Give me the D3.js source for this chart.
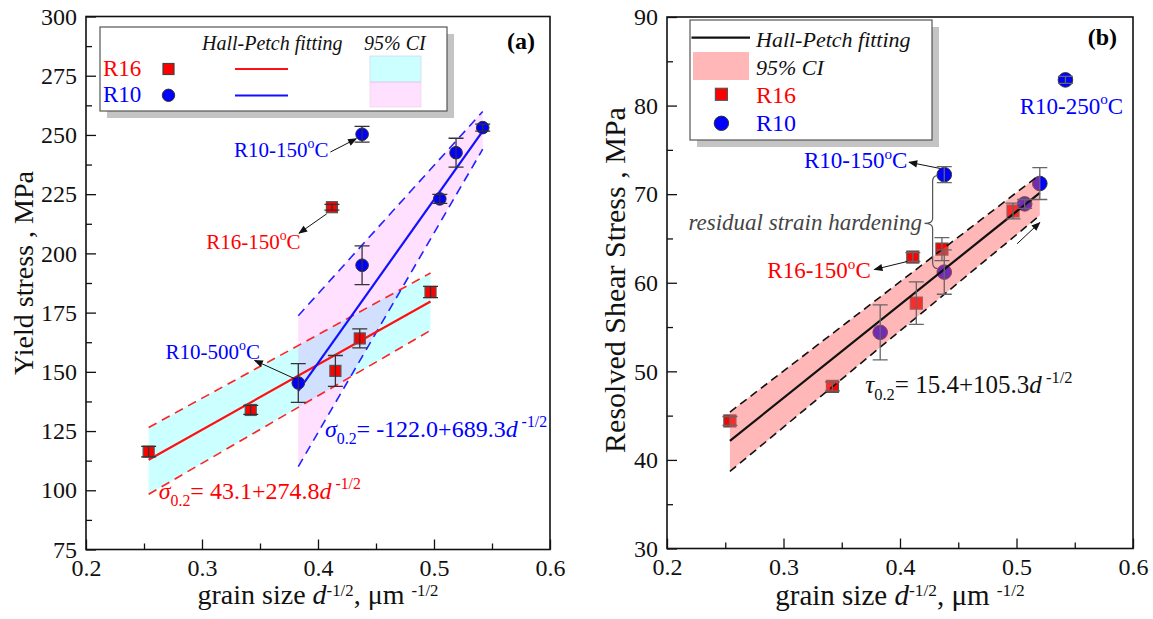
<!DOCTYPE html>
<html>
<head>
<meta charset="utf-8">
<script src="https://cdn.jsdelivr.net/npm/d3@7"></script>
<style>
  body { margin: 0; background: #fff; }
</style>
</head>
<body>
<svg id="chart" width="1153" height="619"></svg>
<script>
var FONT = "'Liberation Serif', 'Times New Roman', Tinos, 'Nimbus Roman', 'DejaVu Serif', 'Noto Serif', serif";

// ---- panel (a) data ----
var xTicksA = [0.2, 0.3, 0.4, 0.5, 0.6];
var yTicksA = [75, 100, 125, 150, 175, 200, 225, 250, 275, 300];
var aR16x = [0.254, 0.342, 0.415, 0.436, 0.497, 0.412];
var aR16y = [116.3, 133.9, 150.4, 164.1, 183.7, 219.5];
var aR16e = [2.2, 1.9, 6.5, 4.0, 2.4, 1.2];
var aR10x = [0.383, 0.438, 0.505, 0.519, 0.542, 0.438];
var aR10y = [145.3, 195.0, 223.0, 242.5, 253.1, 250.3];
var aR10e = [8.2, 8.2, 1.9, 6.1, 1.5, 3.3];
var aFitR16 = [43.1, 274.8], aFitR16x = [0.254, 0.497];
var aFitR10 = [-122.0, 689.3], aFitR10x = [0.383, 0.542];
var aCiR16x = [0.254, 0.497], aCiR16Up = [126.5, 191.7], aCiR16Lo = [98.3, 167.5];
var aCiR10x = [0.383, 0.542], aCiR10Up = [173.7, 259.9], aCiR10Lo = [110.0, 244.0];

// ---- panel (b) data ----
var xTicksB = [0.2, 0.3, 0.4, 0.5, 0.6];
var yTicksB = [30, 40, 50, 60, 70, 80, 90];
var bR16x = [0.254, 0.342, 0.414, 0.436, 0.497, 0.411];
var bR16y = [44.4, 48.3, 57.7, 63.8, 68.1, 62.9];
var bR16e = [0.5, 0.5, 2.4, 1.3, 0.9, 0.5];
var bR10x = [0.383, 0.438, 0.507, 0.520, 0.542, 0.438];
var bR10y = [54.4, 61.2, 68.9, 71.2, 82.9, 72.2];
var bR10e = [3.1, 2.5, 0.5, 1.8, 0.4, 0.9];
var bFit = [15.4, 105.3], bFitx = [0.254, 0.520];
var bCix = [0.254, 0.520], bCiUp = [45.4, 72.2], bCiLo = [38.7, 67.6];

var RED = "#ff0000", BLUE = "#0000ff";
var svg = d3.select("#chart").attr("font-family", FONT);

var defs = svg.append("defs");
defs.append("marker").attr("id", "arr").attr("viewBox", "0 0 10 10")
  .attr("refX", 9).attr("refY", 5).attr("markerWidth", 10).attr("markerHeight", 9)
  .attr("markerUnits", "userSpaceOnUse").attr("orient", "auto")
  .append("path").attr("d", "M0,1 L10,5 L0,9 z").attr("fill", "#111");

// rich text: parts = [[text, kind]] kind n|i|sup|sub|tsup (small raise, for axis titles)
function rich(sel, parts, size) {
  var shift = 0;
  parts.forEach(function(p) {
    var k = p[1];
    var target = k == "sup" ? -0.42 * size : (k == "tsup" ? -0.3 * size : (k == "sub" ? 0.28 * size : 0));
    var ts = sel.append("tspan").attr("dy", target - shift).text(p[0]);
    shift = target;
    if (k == "sup" || k == "sub") ts.attr("font-size", size * 0.66);
    if (k == "tsup") ts.attr("font-size", size * 0.6);
    if (k == "i") ts.attr("font-style", "italic");
  });
  return sel;
}

function addText(g, x, y, parts, size, color, anchor, extra) {
  var t = g.append("text").attr("x", x).attr("y", y)
    .attr("font-family", FONT)
    .attr("font-size", size).attr("fill", color || "#000")
    .attr("text-anchor", anchor || "start");
  if (extra) extra(t);
  return rich(t, parts, size);
}

function arrow(g, x1, y1, x2, y2) {
  g.append("line").attr("x1", x1).attr("y1", y1).attr("x2", x2).attr("y2", y2)
    .attr("stroke", "#111").attr("stroke-width", 1).attr("marker-end", "url(#arr)");
}

function frame(g, x, y, xMajor, xMinor, yMajor, yMinor, yFmt) {
  var x0 = x.range()[0], x1 = x.range()[1], y0 = y.range()[1], y1 = y.range()[0];
  g.append("g").attr("transform", "translate(0," + y1 + ")")
    .call(d3.axisBottom(x).tickValues(xMajor).tickSize(-10).tickSizeOuter(0)
      .tickPadding(9).tickFormat(d3.format(".1f")));
  g.append("g").attr("transform", "translate(0," + y1 + ")")
    .call(d3.axisBottom(x).tickValues(xMinor).tickSize(-6).tickSizeOuter(0).tickFormat(""));
  g.append("g").attr("transform", "translate(" + x0 + ",0)")
    .call(d3.axisLeft(y).tickValues(yMajor).tickSize(-10).tickSizeOuter(0)
      .tickPadding(9).tickFormat(yFmt));
  g.append("g").attr("transform", "translate(" + x0 + ",0)")
    .call(d3.axisLeft(y).tickValues(yMinor).tickSize(-6).tickSizeOuter(0).tickFormat(""));
  g.selectAll(".domain").remove();
  g.selectAll(".tick line").attr("stroke", "#111").attr("stroke-width", 1.3);
  g.selectAll(".tick text").attr("font-family", FONT).attr("font-size", 24).attr("fill", "#111");
  g.append("rect").attr("x", x0).attr("y", y0).attr("width", x1 - x0).attr("height", y1 - y0)
    .attr("fill", "none").attr("stroke", "#111").attr("stroke-width", 1.6);
}

function band(g, x, y, xs, up, lo, fill, op) {
  var pts = xs.map(function(d, i) { return [x(d), y(up[i])]; })
    .concat(xs.slice().reverse().map(function(d, i) { return [x(d), y(lo[xs.length - 1 - i])]; }));
  g.append("path").attr("d", "M" + pts.join("L") + "Z").attr("fill", fill).attr("fill-opacity", op);
}
function dashed(g, x, y, xs, ys, color, dash) {
  g.append("path").attr("d", d3.line().x(function(d, i) { return x(xs[i]); }).y(function(d) { return y(d); })(ys))
    .attr("fill", "none").attr("stroke", color).attr("stroke-width", 1.6).attr("stroke-dasharray", dash);
}
function fitLine(g, x, y, coef, xs, color) {
  g.append("line").attr("x1", x(xs[0])).attr("y1", y(coef[0] + coef[1] * xs[0]))
    .attr("x2", x(xs[1])).attr("y2", y(coef[0] + coef[1] * xs[1]))
    .attr("stroke", color).attr("stroke-width", 2.2);
}
function squares(g, x, y, xs, ys, s) {
  g.selectAll(null).data(xs).enter().append("rect")
    .attr("x", function(d) { return x(d) - s / 2; })
    .attr("y", function(d, i) { return y(ys[i]) - s / 2; })
    .attr("width", s).attr("height", s)
    .attr("fill", RED).attr("stroke", "#555").attr("stroke-width", 1.2);
}
function circles(g, x, y, xs, ys, r) {
  g.selectAll(null).data(xs).enter().append("circle")
    .attr("cx", function(d) { return x(d); })
    .attr("cy", function(d, i) { return y(ys[i]); })
    .attr("r", r).attr("fill", BLUE).attr("stroke", "#333").attr("stroke-width", 1);
}
function errbars(g, x, y, xs, ys, es, w, color) {
  xs.forEach(function(d, i) {
    var cx = x(d), t = y(ys[i] + es[i]), b = y(ys[i] - es[i]);
    var p = "M" + cx + "," + t + "V" + b + "M" + (cx - w) + "," + t + "H" + (cx + w) + "M" + (cx - w) + "," + b + "H" + (cx + w);
    g.append("path").attr("d", p).attr("stroke", color).attr("stroke-width", 1.3).attr("fill", "none");
  });
}

// ================= panel (a) =================
var xa = d3.scaleLinear().domain([0.2, 0.6]).range([86, 550]);
var ya = d3.scaleLinear().domain([75, 300]).range([549.5, 16.5]);
var ga = svg.append("g");

band(ga, xa, ya, aCiR16x, aCiR16Up, aCiR16Lo, "#00ffff", 0.2);
band(ga, xa, ya, aCiR10x, aCiR10Up, aCiR10Lo, "#ff00ff", 0.12);
dashed(ga, xa, ya, aCiR16x, aCiR16Up, "#ff2222", "9,6");
dashed(ga, xa, ya, aCiR16x, aCiR16Lo, "#ff2222", "9,6");
dashed(ga, xa, ya, aCiR10x, aCiR10Up, "#2222ff", "9,6");
dashed(ga, xa, ya, aCiR10x, aCiR10Lo, "#2222ff", "9,6");
fitLine(ga, xa, ya, aFitR16, aFitR16x, "#ff1111");
fitLine(ga, xa, ya, aFitR10, aFitR10x, "#1111ff");
squares(ga, xa, ya, aR16x, aR16y, 11);
circles(ga, xa, ya, aR10x, aR10y, 6.3);
errbars(ga, xa, ya, aR16x, aR16y, aR16e, 7.5, "#333");
errbars(ga, xa, ya, aR10x, aR10y, aR10e, 7.5, "#333");

frame(ga, xa, ya, xTicksA, d3.range(0.25, 0.6, 0.1), yTicksA, d3.range(87.5, 300, 25), d3.format("d"));

// annotations (a)
addText(ga, xa(0.409), ya(240.7), [["R10-150", "n"], ["o", "sup"], ["C", "n"]], 21, BLUE, "end");
arrow(ga, xa(0.4107), ya(242.8), xa(0.433), ya(248.4));
addText(ga, xa(0.385), ya(201.8), [["R16-150", "n"], ["o", "sup"], ["C", "n"]], 21, RED, "end");
arrow(ga, xa(0.4075), ya(216.7), xa(0.3836), ya(208.5));
addText(ga, xa(0.350), ya(155.5), [["R10-500", "n"], ["o", "sup"], ["C", "n"]], 21, BLUE, "end");
arrow(ga, xa(0.3804), ya(147), xa(0.3454), ya(154.8));
addText(ga, xa(0.406), ya(122.3), [["\u03c3", "i"], ["0.2", "sub"], ["= -122.0+689.3", "n"], ["d", "i"], [" -1/2", "sup"]], 24, BLUE);
addText(ga, xa(0.2627), ya(96.2), [["\u03c3", "i"], ["0.2", "sub"], ["= 43.1+274.8", "n"], ["d", "i"], [" -1/2", "sup"]], 24, RED);
addText(ga, 535, 49, [["(a)", "n"]], 24, "#000", "end", function(t) { t.attr("font-weight", "bold"); });

// legend (a)
ga.append("rect").attr("x", 107).attr("y", 34).attr("width", 347).attr("height", 84).attr("fill", "#c4c4c4");
ga.append("rect").attr("x", 100).attr("y", 27).attr("width", 347).attr("height", 84)
  .attr("fill", "#fff").attr("stroke", "#555").attr("stroke-width", 1.2);
addText(ga, 202, 50, [["Hall-Petch fitting", "i"]], 20, "#111");
addText(ga, 364, 50, [["95% CI", "i"]], 20, "#111");
addText(ga, 103, 76, [["R16", "n"]], 23, RED);
addText(ga, 103, 102, [["R10", "n"]], 23, BLUE);
ga.append("rect").attr("x", 163).attr("y", 63.5).attr("width", 11).attr("height", 11)
  .attr("fill", RED).attr("stroke", "#444").attr("stroke-width", 1.2);
ga.append("circle").attr("cx", 168.5).attr("cy", 95.3).attr("r", 6.2)
  .attr("fill", BLUE).attr("stroke", "#333").attr("stroke-width", 1);
ga.append("line").attr("x1", 235).attr("x2", 288).attr("y1", 69).attr("y2", 69).attr("stroke", "#ff1111").attr("stroke-width", 2.2);
ga.append("line").attr("x1", 235).attr("x2", 288).attr("y1", 95.5).attr("y2", 95.5).attr("stroke", "#1111ff").attr("stroke-width", 2.2);
ga.append("rect").attr("x", 370).attr("y", 56).attr("width", 51).attr("height", 26)
  .attr("fill", "#00ffff").attr("fill-opacity", 0.2).attr("stroke", "#cce").attr("stroke-width", 0.6);
ga.append("rect").attr("x", 370).attr("y", 82).attr("width", 51).attr("height", 25)
  .attr("fill", "#ff00ff").attr("fill-opacity", 0.12).attr("stroke", "#ecd").attr("stroke-width", 0.6);

// axis titles (a)
addText(ga, 0, 0, [["Yield stress , MPa", "n"]], 28, "#111", "middle", function(t) {
  t.attr("transform", "translate(33,273) rotate(-90)");
});
addText(ga, 318, 604, [["grain size ", "n"], ["d", "i"], ["-1/2", "tsup"], [", \u03bcm ", "n"], ["-1/2", "tsup"]], 28, "#111", "middle");

// ================= panel (b) =================
var xb = d3.scaleLinear().domain([0.2, 0.6]).range([667, 1133]);
var yb = d3.scaleLinear().domain([30, 90]).range([548.5, 17]);
var gb = svg.append("g");

squares(gb, xb, yb, bR16x, bR16y, 12);
circles(gb, xb, yb, bR10x, bR10y, 7.3);
band(gb, xb, yb, bCix, bCiUp, bCiLo, "#ff5f5f", 0.45);
dashed(gb, xb, yb, bCix, bCiUp, "#111", "8,5");
dashed(gb, xb, yb, bCix, bCiLo, "#111", "8,5");
fitLine(gb, xb, yb, bFit, bFitx, "#111");
errbars(gb, xb, yb, bR16x, bR16y, bR16e, 7.5, "#666");
errbars(gb, xb, yb, bR10x, bR10y, bR10e, 7.5, "#666");

frame(gb, xb, yb, xTicksB, d3.range(0.25, 0.6, 0.1), yTicksB, d3.range(35, 90, 10), d3.format("d"));

// annotations (b)
addText(gb, xb(0.5915), yb(79.1), [["R10-250", "n"], ["o", "sup"], ["C", "n"]], 23, BLUE, "end");
addText(gb, xb(0.4063), yb(72.9), [["R10-150", "n"], ["o", "sup"], ["C", "n"]], 23, BLUE, "end");
arrow(gb, xb(0.4345), yb(72.9), xb(0.4078), yb(73.6));
addText(gb, xb(0.3749), yb(60.5), [["R16-150", "n"], ["o", "sup"], ["C", "n"]], 23, RED, "end");
arrow(gb, xb(0.4063), yb(62.4), xb(0.378), yb(61.5));
addText(gb, xb(0.4188), yb(65.9), [["residual strain hardening", "i"]], 23, "#444", "end");
(function() {
  var bx = xb(0.428), tip = xb(0.421), t = yb(72.1), m = yb(66.7), b = yb(61.6);
  gb.append("path").attr("d",
    "M" + (bx + 5) + "," + t + " Q" + bx + "," + t + " " + bx + "," + (t + 6) +
    " L" + bx + "," + (m - 5) + " Q" + bx + "," + m + " " + tip + "," + m +
    " Q" + bx + "," + m + " " + bx + "," + (m + 5) +
    " L" + bx + "," + (b - 6) + " Q" + bx + "," + b + " " + (bx + 5) + "," + b)
    .attr("fill", "none").attr("stroke", "#555").attr("stroke-width", 1.2);
})();
arrow(gb, xb(0.5005), yb(64.4), xb(0.520), yb(66.8));
addText(gb, xb(0.3702), yb(47.5), [["\u03c4", "i"], ["0.2", "sub"], ["= 15.4+105.3", "n"], ["d", "i"], [" -1/2", "sup"]], 25, "#111");
addText(gb, 1117, 45, [["(b)", "n"]], 24, "#000", "end", function(t) { t.attr("font-weight", "bold"); });

// legend (b)
gb.append("rect").attr("x", 697).attr("y", 27).attr("width", 242).attr("height", 120).attr("fill", "#c4c4c4");
gb.append("rect").attr("x", 690).attr("y", 20).attr("width", 242).attr("height", 120)
  .attr("fill", "#fff").attr("stroke", "#555").attr("stroke-width", 1.2);
gb.append("line").attr("x1", 691.5).attr("x2", 750).attr("y1", 37.7).attr("y2", 37.7).attr("stroke", "#111").attr("stroke-width", 2.2);
addText(gb, 756, 47, [["Hall-Petch fitting", "i"]], 22, "#111");
gb.append("rect").attr("x", 693).attr("y", 52).attr("width", 56).attr("height", 28)
  .attr("fill", "#ff5f5f").attr("fill-opacity", 0.45);
addText(gb, 756, 75, [["95% CI", "i"]], 22, "#111");
gb.append("rect").attr("x", 715.4).attr("y", 88.3).attr("width", 12).attr("height", 12)
  .attr("fill", RED).attr("stroke", "#555").attr("stroke-width", 1.2);
addText(gb, 756, 103, [["R16", "n"]], 24, RED);
gb.append("circle").attr("cx", 721.4).attr("cy", 123.3).attr("r", 7.2)
  .attr("fill", BLUE).attr("stroke", "#333").attr("stroke-width", 1);
addText(gb, 756, 131, [["R10", "n"]], 24, BLUE);

// axis titles (b)
addText(gb, 0, 0, [["Resolved Shear Stress , MPa", "n"]], 30, "#111", "middle", function(t) {
  t.attr("transform", "translate(625,280) rotate(-90)");
});
addText(gb, 900, 605, [["grain size ", "n"], ["d", "i"], ["-1/2", "tsup"], [", \u03bcm ", "n"], ["-1/2", "tsup"]], 29, "#111", "middle");
</script>
</body>
</html>
